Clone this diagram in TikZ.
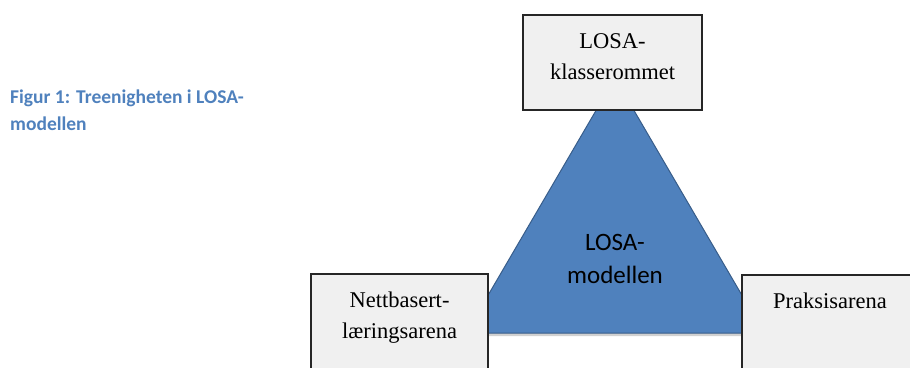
\documentclass[tikz,border=0pt]{standalone}
\usepackage{fontspec}
\setmainfont{Liberation Serif}
\newfontfamily\calfont{Carlito}
\definecolor{triblue}{RGB}{79,129,189}
\definecolor{triedge}{RGB}{56,93,138}
\definecolor{capblue}{RGB}{79,129,189}
\definecolor{boxfill}{RGB}{240,240,240}
\begin{document}
\begin{tikzpicture}[x=1pt,y=-1pt,
  arenabox/.style={draw=black!85,line width=2pt,fill=boxfill,inner sep=0pt,minimum width=#1,minimum height=95pt},
  arenatext/.style={anchor=north,inner sep=0pt,align=center,font=\fontsize{22.5}{31}\selectfont},
  modeltext/.style={inner sep=0pt,align=center,font=\calfont\fontsize{25}{33}\selectfont},
  captext/.style={anchor=north west,inner sep=0pt,align=left,text=capblue,font=\calfont\bfseries\fontsize{19.5}{27}\selectfont}]
\useasboundingbox (0,0) rectangle (910,367);
% triangle
\coordinate (apex) at (615,78);
\coordinate (bl) at (466,333);
\coordinate (br) at (764,333);
\fill[black!30,opacity=0.6] ([shift={(2,3)}]apex) -- ([shift={(2,3)}]bl) -- ([shift={(2,3)}]br) -- cycle;
\draw[fill=triblue,draw=triedge,line width=1pt,line join=miter] (apex) -- (bl) -- (br) -- cycle;
\node[modeltext] (model) at (615,258.5) {LOSA-\\modellen};
% boxes
\node[arenabox=179pt] (topbox) at (612.5,62.5) {};
\node[arenabox=177pt] (leftbox) at (399.5,321.5) {};
\node[arenabox=176pt] (rightbox) at (830,322.5) {};
\node[arenatext] (toptext) at ([yshift=-19pt]topbox.north) {LOSA-\\klasserommet};
\node[arenatext] (lefttext) at ([yshift=-19pt]leftbox.north) {Nettbasert-\\læringsarena};
\node[arenatext] (righttext) at ([yshift=-19pt]rightbox.north) {Praksisarena};
% caption
\node[captext] (caption) at (10,90) {Figur 1: Treenigheten i LOSA-\\modellen};
\end{tikzpicture}
\end{document}
